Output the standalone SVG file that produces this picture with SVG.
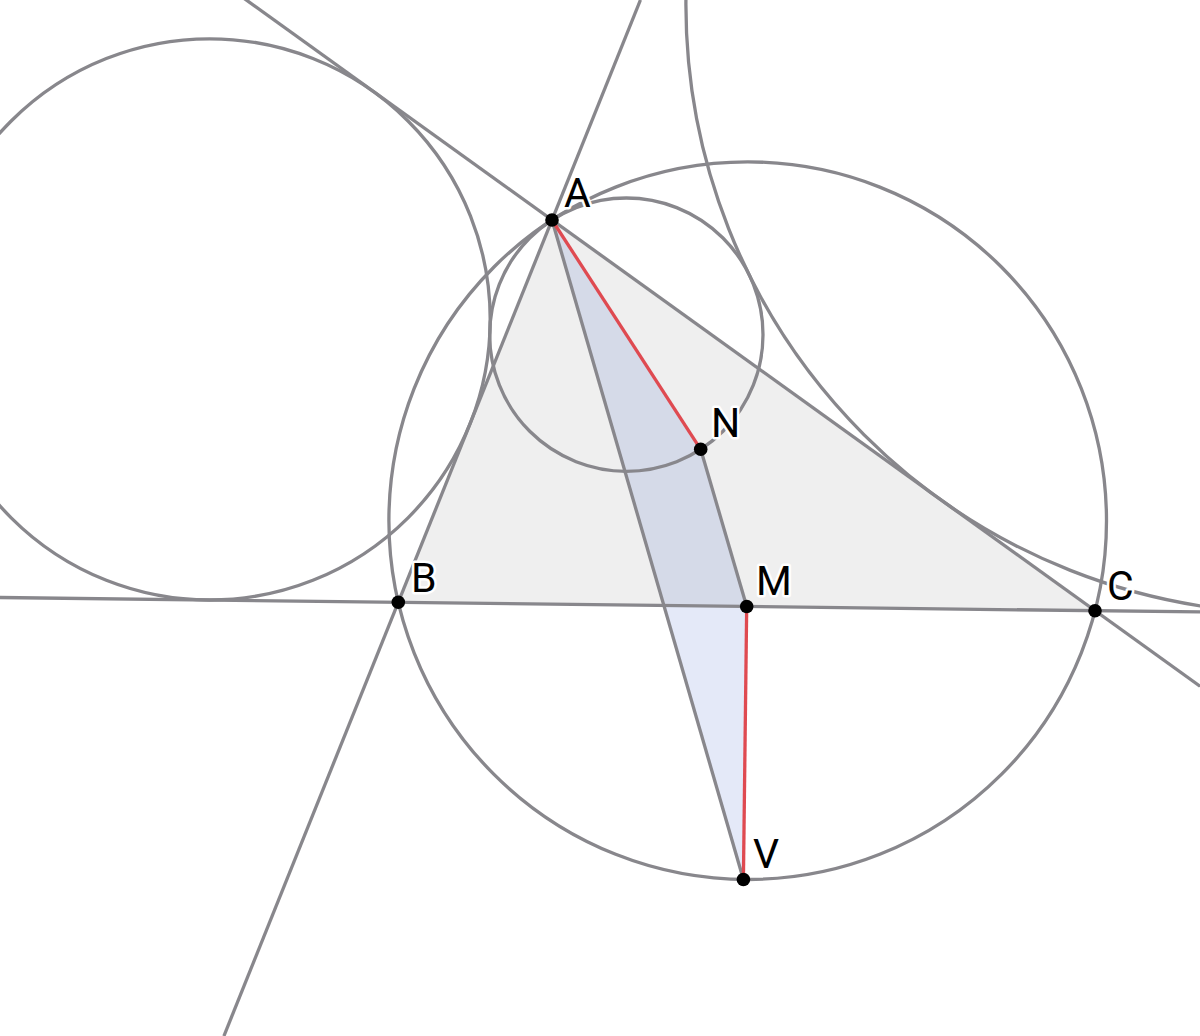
<svg xmlns="http://www.w3.org/2000/svg" width="1200" height="1036" viewBox="0 0 1200 1036">
<style>
.ln{stroke:#88878c;stroke-width:3.3;fill:none}
.rd{stroke:#df4a51;stroke-width:3.3;fill:none}
.pt{fill:#000}
.lb{font-family:Roboto,"Liberation Sans",sans-serif;font-size:41px;fill:#000;stroke:#fff;stroke-width:5;paint-order:stroke;stroke-linejoin:round}
</style>
<rect width="1200" height="1036" fill="#fff"/>
<g id="fills">
<polygon points="552,220 700.7,449.3 746.7,606.5 743.4,879.5" fill="#e4e9f8"/>
<polygon points="552,220 398.3,602.3 1095,610.7" fill="#000" fill-opacity="0.063"/>
</g>
<g id="connectors">
<circle class="ln" cx="747.7" cy="520.7" r="358.8"/>
<circle class="ln" cx="209.6" cy="319.4" r="280.6"/>
<circle class="ln" cx="1294.4" cy="4.6" r="608.5"/>
<circle class="ln" cx="626.35" cy="334.65" r="136.65"/>
<line class="ln" x1="0" y1="597.5" x2="1200" y2="611.97"/>
<line class="ln" x1="640.45" y1="0" x2="223.9" y2="1036"/>
<line class="ln" x1="0" y1="-177.2" x2="1200" y2="686.2"/>
<line class="ln" x1="552" y1="220" x2="743.4" y2="879.5"/>
<line class="ln" x1="700.7" y1="449.3" x2="746.7" y2="606.5"/>
<line class="rd" x1="552" y1="220" x2="700.7" y2="449.3"/>
<line class="rd" x1="746.7" y1="606.5" x2="743.4" y2="879.5"/>
</g>
<g id="A"><circle class="pt" cx="552" cy="220" r="6.8"/><text class="lb" x="564" y="207">A</text></g>
<g id="B"><circle class="pt" cx="398.3" cy="602.3" r="6.8"/><text class="lb" x="411" y="592">B</text></g>
<g id="C"><circle class="pt" cx="1095" cy="610.7" r="6.8"/><text class="lb" x="1107" y="600">C</text></g>
<g id="M"><circle class="pt" cx="746.7" cy="606.5" r="6.8"/><text class="lb" x="756" y="595">M</text></g>
<g id="N"><circle class="pt" cx="700.7" cy="449.3" r="6.8"/><text class="lb" x="711" y="437">N</text></g>
<g id="V"><circle class="pt" cx="743.4" cy="879.5" r="6.8"/><text class="lb" x="753" y="868">V</text></g>
</svg>
